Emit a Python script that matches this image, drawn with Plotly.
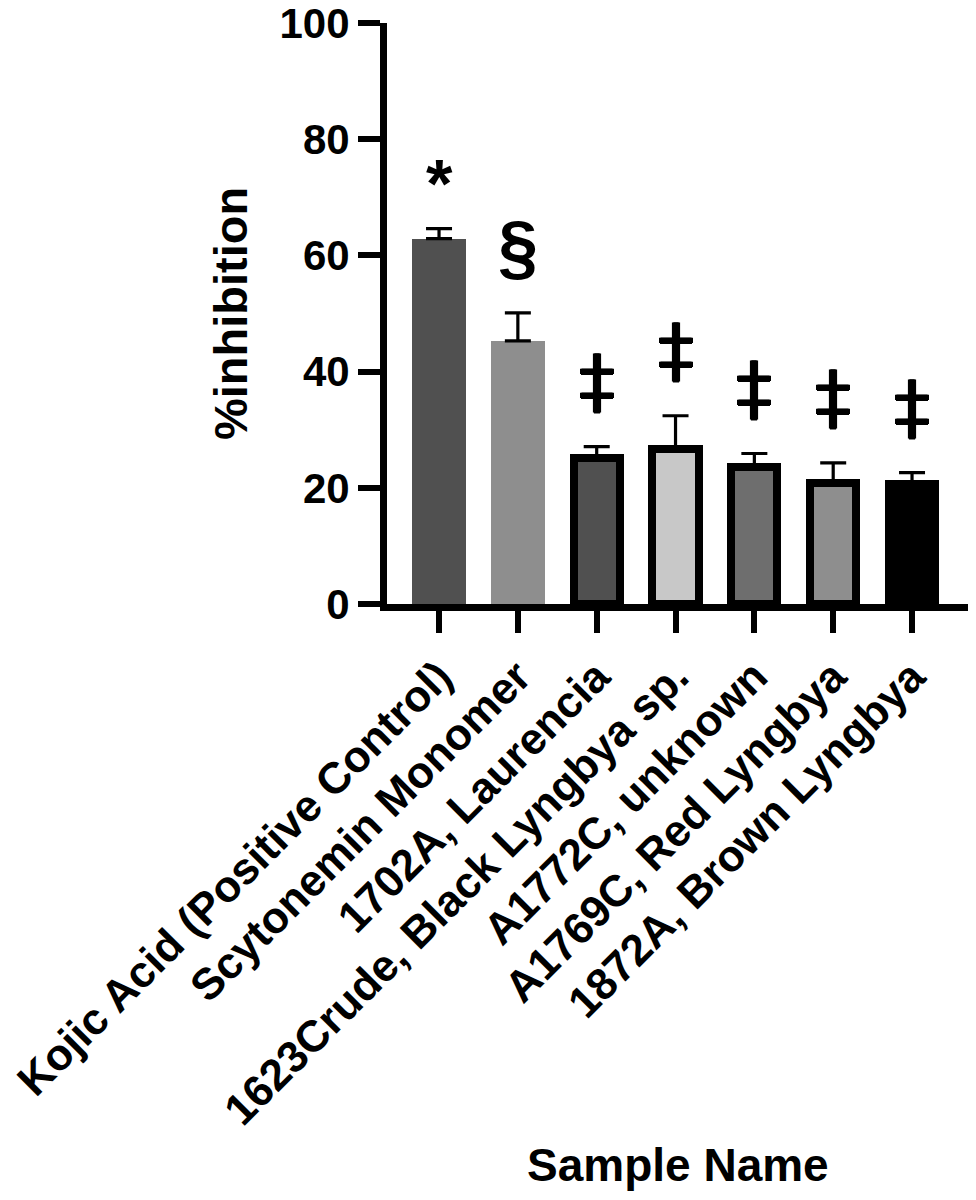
import plotly.graph_objects as go

categories = [
    "Kojic Acid (Positive Control)",
    "Scytonemin Monomer",
    "1702A, Laurencia",
    "1623Crude, Black Lyngbya sp.",
    "A1772C, unknown",
    "A1769C, Red Lyngbya",
    "1872A, Brown Lyngbya",
]
values = [62.9, 45.3, 25.2, 26.7, 23.6, 20.9, 20.7]
errors = [1.7, 4.8, 1.9, 5.7, 2.3, 3.4, 1.9]
markers = ["*", "§", "‡", "‡", "‡", "‡", "‡"]
y_ticks = [0, 20, 40, 60, 80, 100]
x_title = "Sample Name"
y_title = "%inhibition"

fills = ["#505050", "#8e8e8e", "#505050", "#c8c8c8", "#6e6e6e", "#8e8e8e", "#000000"]
line_w = [0, 0, 8, 8, 8, 8, 8]
bar_w = [0.68, 0.68, 0.585, 0.585, 0.585, 0.585, 0.585]

FONT = "Liberation Sans"
x_idx = list(range(len(categories)))

# symbol styling: (family, size, weight, yshift, shadow)
sym_style = {
    "*": ("Liberation Sans", 68, "bold", 6, "none"),
    "§": ("Liberation Sans", 72, "bold", 24, "none"),
    "‡": ("DejaVu Sans", 72, "normal", 22,
          "1px 0px 0px #000, -1px 0px 0px #000, 0px 1px 0px #000"),
}

fig = go.Figure()
fig.add_trace(go.Bar(
    x=x_idx, y=values, width=bar_w,
    marker=dict(color=fills, line=dict(color="#000000", width=line_w)),
    error_y=dict(type="data", array=errors, arrayminus=[0] * len(errors),
                 symmetric=False, color="#000000", thickness=3.2, width=13),
    showlegend=False,
))

for i, (v, e, m) in enumerate(zip(values, errors, markers)):
    fam, size, wt, ys, sh = sym_style[m]
    fig.add_annotation(x=i, y=v + e, text=m, showarrow=False, xref="x", yref="y",
                       yanchor="bottom", yshift=ys,
                       font=dict(family=fam, size=size, weight=wt, color="#000000",
                                 shadow=sh))

# x-axis title placed as a paper annotation for exact vertical placement
fig.add_annotation(x=0.5, y=-0.966, xref="paper", yref="paper", text=x_title,
                   showarrow=False, xanchor="center", yanchor="middle",
                   font=dict(family=FONT, size=46, weight="bold", color="#000000"))

fig.update_layout(
    width=976, height=1200,
    margin=dict(l=387, r=8, t=23, b=596, autoexpand=False),
    paper_bgcolor="white", plot_bgcolor="white",
    bargap=0,
    font=dict(family=FONT, color="#000000"),
)
fig.update_xaxes(
    range=[-0.66, 6.71], tickmode="array", tickvals=x_idx, ticktext=categories,
    tickangle=-45, ticks="outside", ticklen=22, tickwidth=6, tickcolor="#000000",
    showline=True, linewidth=7, linecolor="#000000", showgrid=False, zeroline=False,
    tickfont=dict(family=FONT, size=44, weight="bold", color="#000000"),
    ticklabeloverflow="allow",
    automargin=False,
)
fig.update_yaxes(
    range=[0, 100], tickmode="array", tickvals=y_ticks,
    ticks="outside", ticklen=22, tickwidth=6, tickcolor="#000000",
    showline=True, linewidth=7, linecolor="#000000", showgrid=False, zeroline=False,
    tickfont=dict(family=FONT, size=42, weight="bold", color="#000000"),
    ticklabeloverflow="allow",
    title=dict(text=y_title, standoff=20,
               font=dict(family=FONT, size=47, weight="bold", color="#000000")),
    automargin=False,
)

fig.write_html("out.html", config={"displayModeBar": False},
               post_script="document.body.style.margin='0px';")
